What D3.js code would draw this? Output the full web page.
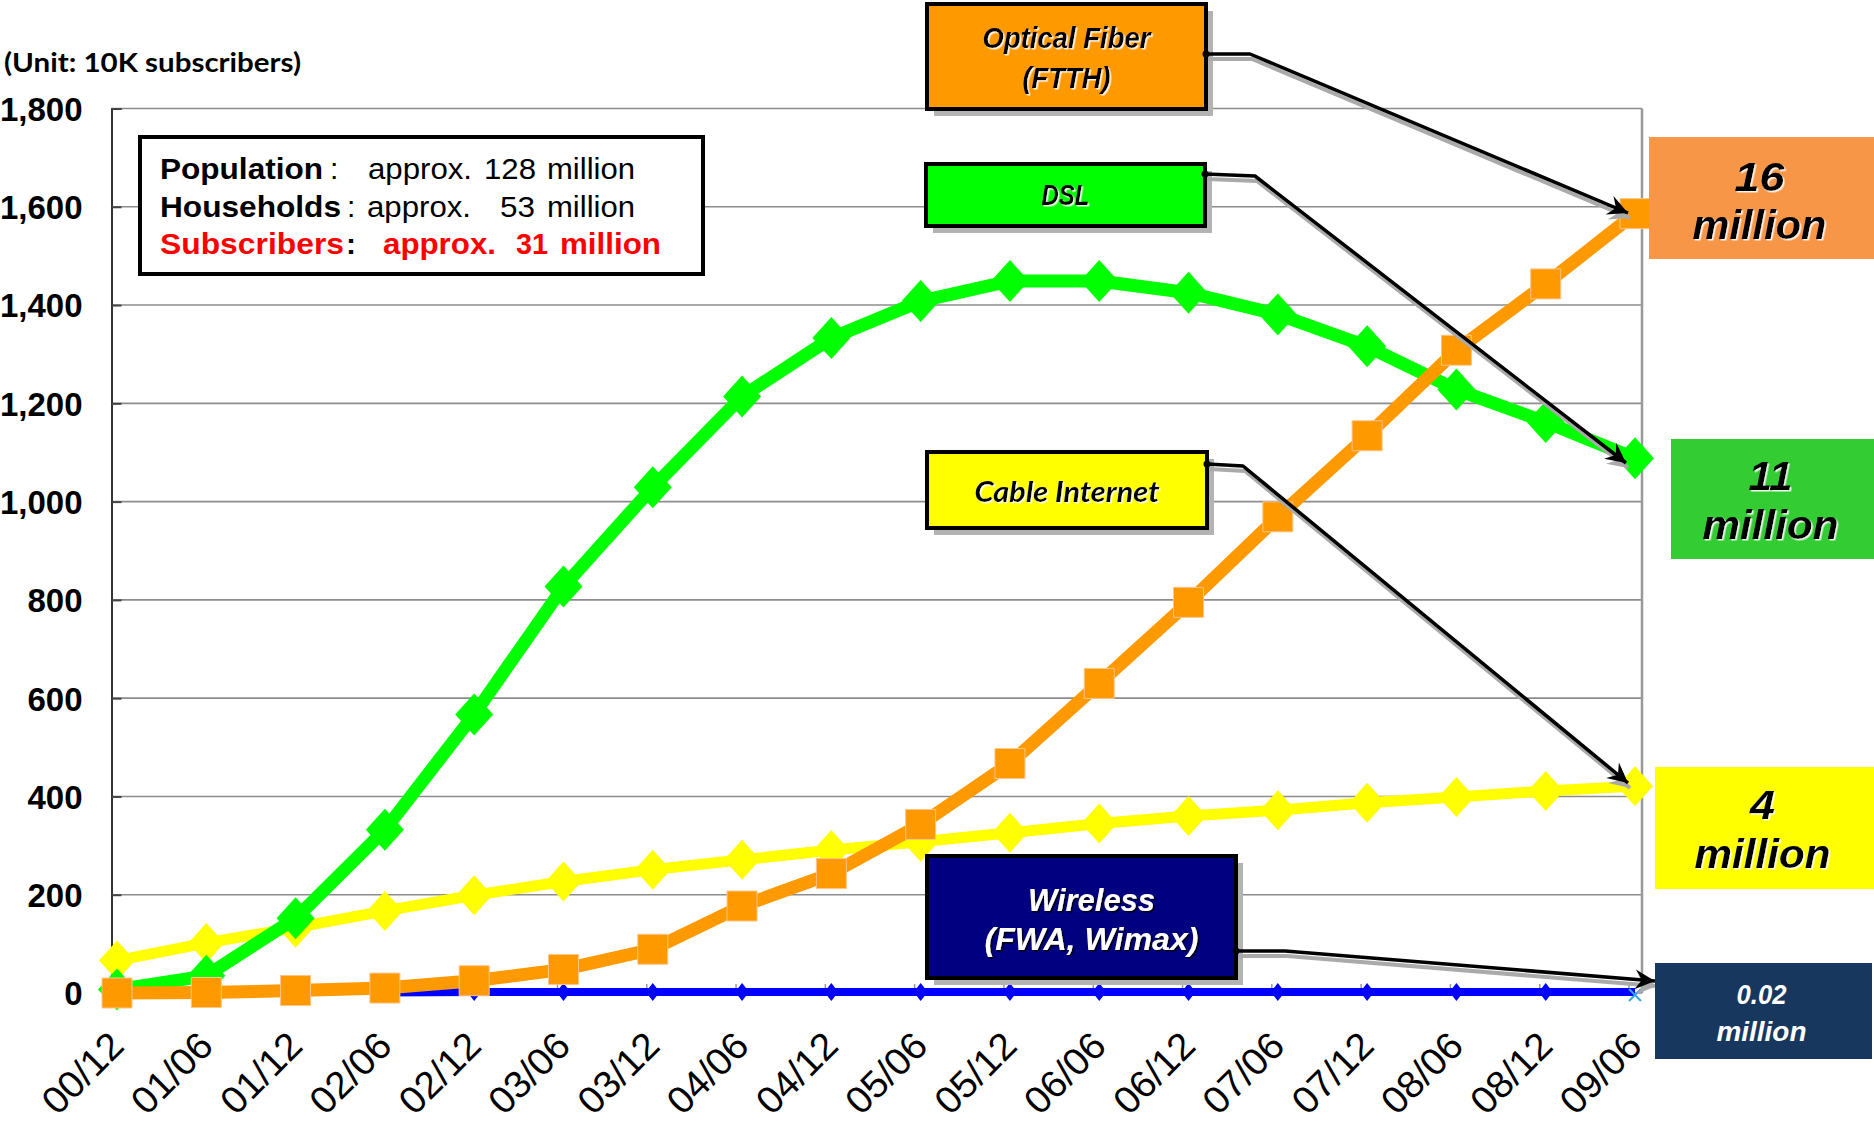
<!DOCTYPE html>
<html>
<head>
<meta charset="utf-8">
<script src="https://cdn.jsdelivr.net/npm/d3@7"></script>
<style>
  body { margin: 0; background: #fff; }
  svg { display: block; font-family: "Liberation Sans", Arial, sans-serif; }
</style>
</head>
<body>
<div id="chart"></div>
<script>
// broadband subscribers in Japan (unit: 10K)
const categories = ["00/12","01/06","01/12","02/06","02/12","03/06","03/12","04/06","04/12",
                    "05/06","05/12","06/06","06/12","07/06","07/12","08/06","08/12","09/06"];
const dsl      = [7, 35, 152, 332, 567, 827, 1029, 1214, 1333, 1408, 1449, 1449, 1425, 1381, 1316, 1228, 1162, 1088];
const ftth     = [0, 1, 5, 10, 25, 48, 89, 177, 243, 343, 467, 630, 795, 969, 1134, 1308, 1443, 1586];
const cable    = [66, 102, 133, 167, 199, 227, 251, 271, 291, 308, 326, 345, 360, 372, 387, 399, 411, 421];
const wireless = [null, null, null, 1, 2, 2, 2, 2, 2, 2, 2, 2, 2, 2, 2, 2, 2, 2];
const yTicks   = [0, 200, 400, 600, 800, 1000, 1200, 1400, 1600, 1800];

const width = 1874, height = 1124;
const plot = { left: 111.5, right: 1642, top: 108.5, bottom: 993 };

const svg = d3.select("#chart").append("svg")
    .attr("width", width)
    .attr("height", height);

const defs = svg.append("defs");
// light glow behind dark callout text
const fLight = defs.append("filter").attr("id", "glowLight").attr("x", "-20%").attr("y", "-40%").attr("width", "140%").attr("height", "180%");
fLight.append("feDropShadow").attr("dx", 1.5).attr("dy", 1.5).attr("stdDeviation", 0.6).attr("flood-color", "#ffffff").attr("flood-opacity", 0.9);
const fDark = defs.append("filter").attr("id", "glowDark").attr("x", "-20%").attr("y", "-40%").attr("width", "140%").attr("height", "180%");
fDark.append("feDropShadow").attr("dx", 1.5).attr("dy", 1.5).attr("stdDeviation", 0.6).attr("flood-color", "#000000").attr("flood-opacity", 0.9);

defs.append("marker")
    .attr("id", "arrow")
    .attr("markerUnits", "userSpaceOnUse")
    .attr("viewBox", "-22 -12 26 24")
    .attr("markerWidth", 26).attr("markerHeight", 24)
    .attr("refX", 0).attr("refY", 0)
    .attr("orient", "auto")
    .append("path")
    .attr("d", "M0,0 L-20,-10 L-13,0 L-20,10 Z")
    .attr("fill", "#000");
defs.append("marker")
    .attr("id", "arrowShadow")
    .attr("markerUnits", "userSpaceOnUse")
    .attr("viewBox", "-22 -12 26 24")
    .attr("markerWidth", 26).attr("markerHeight", 24)
    .attr("refX", 0).attr("refY", 0)
    .attr("orient", "auto")
    .append("path")
    .attr("d", "M0,0 L-20,-10 L-13,0 L-20,10 Z")
    .attr("fill", "#aaa");

// scales
const x = d3.scalePoint().domain(categories).range([117, 1635]);
const y = d3.scaleLinear().domain([0, 1800]).range([plot.bottom, plot.top]);

// gridlines
svg.append("g").selectAll("line.grid")
    .data(yTicks)
    .enter().append("line")
    .attr("x1", plot.left).attr("x2", plot.right)
    .attr("y1", d => y(d)).attr("y2", d => y(d))
    .attr("stroke", "#8c8c8c").attr("stroke-width", 1.6);

// right border
svg.append("line")
    .attr("x1", plot.right).attr("x2", plot.right)
    .attr("y1", plot.top).attr("y2", plot.bottom)
    .attr("stroke", "#999").attr("stroke-width", 2.5);

// left axis with inner ticks
const yAxis = d3.axisLeft(y).tickValues(yTicks).tickSize(-10).tickFormat(d3.format(","));
const yg = svg.append("g").attr("transform", `translate(${plot.left},0)`).call(yAxis);
yg.select(".domain").attr("stroke", "#333").attr("stroke-width", 2);
yg.selectAll(".tick line").attr("stroke", "#444").attr("stroke-width", 2);
yg.selectAll(".tick text")
    .attr("x", -29)
    .attr("dy", "0.36em")
    .attr("fill", "#000")
    .style("font-size", "33px")
    .style("font-weight", "bold")
    .style("font-family", "'Liberation Sans', Arial, sans-serif");

// x ticks on the bottom, pointing up
svg.append("g").selectAll("line.xt")
    .data(categories)
    .enter().append("line")
    .attr("x1", d => x(d) - 6).attr("x2", d => x(d) - 6)
    .attr("y1", plot.bottom).attr("y2", plot.bottom - 9)
    .attr("stroke", "#999").attr("stroke-width", 1.5);

// x labels rotated
svg.append("g").selectAll("text.xl")
    .data(categories)
    .enter().append("text")
    .attr("transform", d => `translate(${x(d) + 9},1048) rotate(-45)`)
    .attr("text-anchor", "end")
    .attr("font-size", 38)
    .attr("textLength", 97)
    .attr("lengthAdjust", "spacingAndGlyphs")
    .attr("fill", "#000")
    .text(d => d);

// unit label
svg.append("text")
    .attr("x", 4).attr("y", 72)
    .attr("font-family", "Lato, 'Open Sans', sans-serif")
    .attr("font-weight", "bold")
    .attr("font-size", 27)
    .attr("textLength", 297)
    .attr("lengthAdjust", "spacingAndGlyphs")
    .text("(Unit: 10K subscribers)");

// diamond path
function diamond(w, h) {
    return `M0,${-h/2} L${w/2},0 L0,${h/2} L${-w/2},0 Z`;
}

function drawSeries(values, color, lw, markerPath, stroke) {
    const pts = categories.map((c, i) => ({ c, v: values[i] })).filter(p => p.v != null);
    const line = d3.line().x(p => x(p.c)).y(p => y(p.v));
    const g = svg.append("g");
    g.append("path")
        .attr("d", line(pts))
        .attr("fill", "none")
        .attr("stroke", color)
        .attr("stroke-width", lw)
        .attr("stroke-linejoin", "round");
    g.selectAll("path.m")
        .data(pts)
        .enter().append("path")
        .attr("d", markerPath)
        .attr("transform", p => `translate(${x(p.c)},${y(p.v)})`)
        .attr("fill", color)
        .attr("stroke", stroke || "none")
        .attr("stroke-width", 1);
    return g;
}

drawSeries(cable, "#ffff00", 11, diamond(36, 40));
drawSeries(dsl, "#00ff00", 13, diamond(38, 42));
const wg = drawSeries(wireless.slice(0, 17).concat([null]), "#0000ff", 8, diamond(14, 18));
// last wireless segment + its marker (light x)
wg.append("line")
    .attr("x1", x("08/12")).attr("x2", x("09/06"))
    .attr("y1", y(wireless[16])).attr("y2", y(wireless[17]))
    .attr("stroke", "#0000ff").attr("stroke-width", 8);
wg.append("path")
    .attr("d", "M-6,-6 L6,6 M-6,6 L6,-6")
    .attr("transform", `translate(${x("09/06")},${y(wireless[17]) + 3})`)
    .attr("stroke", "#33aadd").attr("stroke-width", 2);
drawSeries(ftth, "#ff9900", 13, "M-15,-15 H15 V15 H-15 Z", "#ffc58a");

// info box
const info = svg.append("g");
info.append("rect")
    .attr("x", 140).attr("y", 137).attr("width", 563).attr("height", 137)
    .attr("fill", "#fff").attr("stroke", "#000").attr("stroke-width", 4);
const infoRows = [
    { y: 179, parts: [
        { t: "Population", x: 160, len: 163, w: "bold", c: "#000" },
        { t: ":", x: 330, w: "normal", c: "#000" },
        { t: "approx.", x: 368, len: 104, w: "normal", c: "#000" },
        { t: "128", x: 484, len: 52, w: "normal", c: "#000" },
        { t: "million", x: 547, len: 88, w: "normal", c: "#000" }] },
    { y: 217, parts: [
        { t: "Households", x: 160, len: 181, w: "bold", c: "#000" },
        { t: ":", x: 347, w: "normal", c: "#000" },
        { t: "approx.", x: 367, len: 104, w: "normal", c: "#000" },
        { t: "53", x: 500, len: 35, w: "normal", c: "#000" },
        { t: "million", x: 547, len: 88, w: "normal", c: "#000" }] },
    { y: 254, parts: [
        { t: "Subscribers", x: 160, len: 184, w: "bold", c: "#ff0000" },
        { t: ":", x: 346, w: "bold", c: "#000" },
        { t: "approx.", x: 383, len: 113, w: "bold", c: "#ff0000" },
        { t: "31", x: 516, len: 32, w: "bold", c: "#ff0000" },
        { t: "million", x: 560, len: 101, w: "bold", c: "#ff0000" }] }
];
infoRows.forEach(r => {
    r.parts.forEach(p => {
        const t = info.append("text")
            .attr("x", p.x).attr("y", r.y)
            .attr("font-size", 30)
            .attr("font-weight", p.w)
            .attr("fill", p.c)
            .text(p.t);
        if (p.len) t.attr("textLength", p.len).attr("lengthAdjust", "spacingAndGlyphs");
    });
});

// callout boxes with arrows
const callouts = [
    { x: 927, y: 4, w: 279, h: 105, fill: "#ff9900", textColor: "#000", lines: ["Optical Fiber", "(FTTH)"],
      base: [48, 88], lens: [168, 88], size: 29, dx: 0, font: "'Liberation Sans', Arial, sans-serif", weight: "bold",
      path: [[1206, 54], [1250, 54], [1628, 213]] },
    { x: 926, y: 164, w: 279, h: 62, fill: "#00ff00", textColor: "#000", lines: ["DSL"],
      base: [205], lens: [48], size: 29, dx: 0, font: "'Liberation Sans', Arial, sans-serif", weight: "bold",
      path: [[1205, 174], [1255, 176], [1626, 463]] },
    { x: 927, y: 452, w: 280, h: 76, fill: "#ffff00", textColor: "#000", lines: ["Cable Internet"],
      base: [502], lens: [185], size: 29, dx: 0, font: "Lato, 'Open Sans', sans-serif", weight: "bold",
      path: [[1207, 464], [1243, 466], [1628, 783]] },
    { x: 927, y: 856, w: 309, h: 122, fill: "#000080", textColor: "#fff", lines: ["Wireless", "(FWA, Wimax)"],
      base: [911, 950], lens: [127, 214], size: 32, dx: 10, font: "'Liberation Sans', Arial, sans-serif", weight: "bold",
      path: [[1236, 951], [1285, 951], [1655, 981]] }
];
const cg = svg.append("g");
const pathLine = d3.line();
callouts.forEach(c => {
    // shadows
    cg.append("rect")
        .attr("x", c.x + 7).attr("y", c.y + 7).attr("width", c.w).attr("height", c.h)
        .attr("fill", "#b3b3b3");
    cg.append("path")
        .attr("d", pathLine(c.path.map(p => [p[0] + 2, p[1] + 5])))
        .attr("fill", "none").attr("stroke", "#aaa").attr("stroke-width", 4)
        .attr("marker-end", "url(#arrowShadow)");
    cg.append("rect")
        .attr("x", c.x).attr("y", c.y).attr("width", c.w).attr("height", c.h)
        .attr("fill", c.fill).attr("stroke", "#000").attr("stroke-width", 4);
    cg.append("path")
        .attr("d", pathLine(c.path))
        .attr("fill", "none").attr("stroke", "#000").attr("stroke-width", 3.5)
        .attr("stroke-linejoin", "round")
        .attr("marker-end", "url(#arrow)");
    cg.append("circle")
        .attr("cx", c.path[0][0]).attr("cy", c.path[0][1]).attr("r", 3.5).attr("fill", "#000");
    c.lines.forEach((ln, i) => {
        cg.append("text")
            .attr("x", c.x + c.w / 2 + c.dx)
            .attr("y", c.base[i])
            .attr("text-anchor", "middle")
            .attr("font-family", c.font)
            .attr("font-weight", c.weight)
            .attr("font-style", "italic")
            .attr("font-size", c.size)
            .attr("textLength", c.lens[i])
            .attr("lengthAdjust", "spacingAndGlyphs")
            .attr("fill", c.textColor)
            .attr("filter", c.textColor === "#000" ? "url(#glowLight)" : "url(#glowDark)")
            .text(ln);
    });
});

// value labels at the right
const valueLabels = [
    { x: 1649, y: 137, w: 225, h: 122, fill: "#f79646", color: "#000", lines: ["16", "million"], base: [191, 239], size: 41, lens: [50, 134] },
    { x: 1671, y: 439, w: 203, h: 120, fill: "#33cc33", color: "#000", lines: ["11", "million"], base: [490, 539], size: 41, lens: [44, 136] },
    { x: 1655, y: 767, w: 219, h: 122, fill: "#ffff00", color: "#000", lines: ["4", "million"], base: [819, 868], size: 41, lens: [25, 136] },
    { x: 1655, y: 963, w: 217, h: 96, fill: "#17375e", color: "#fff", lines: ["0.02", "million"], base: [1004, 1041], size: 28, lens: [50, 90] }
];
const vg = svg.append("g");
valueLabels.forEach(v => {
    vg.append("rect")
        .attr("x", v.x).attr("y", v.y).attr("width", v.w).attr("height", v.h)
        .attr("fill", v.fill);
    v.lines.forEach((ln, i) => {
        vg.append("text")
            .attr("x", v.x + v.w / 2 - 2)
            .attr("y", v.base[i])
            .attr("text-anchor", "middle")
            .attr("font-weight", "bold")
            .attr("font-style", "italic")
            .attr("font-size", v.size)
            .attr("textLength", v.lens[i])
            .attr("lengthAdjust", "spacingAndGlyphs")
            .attr("fill", v.color)
            .attr("filter", v.color === "#000" ? "url(#glowLight)" : null)
            .text(ln);
    });
});
</script>
</body>
</html>
